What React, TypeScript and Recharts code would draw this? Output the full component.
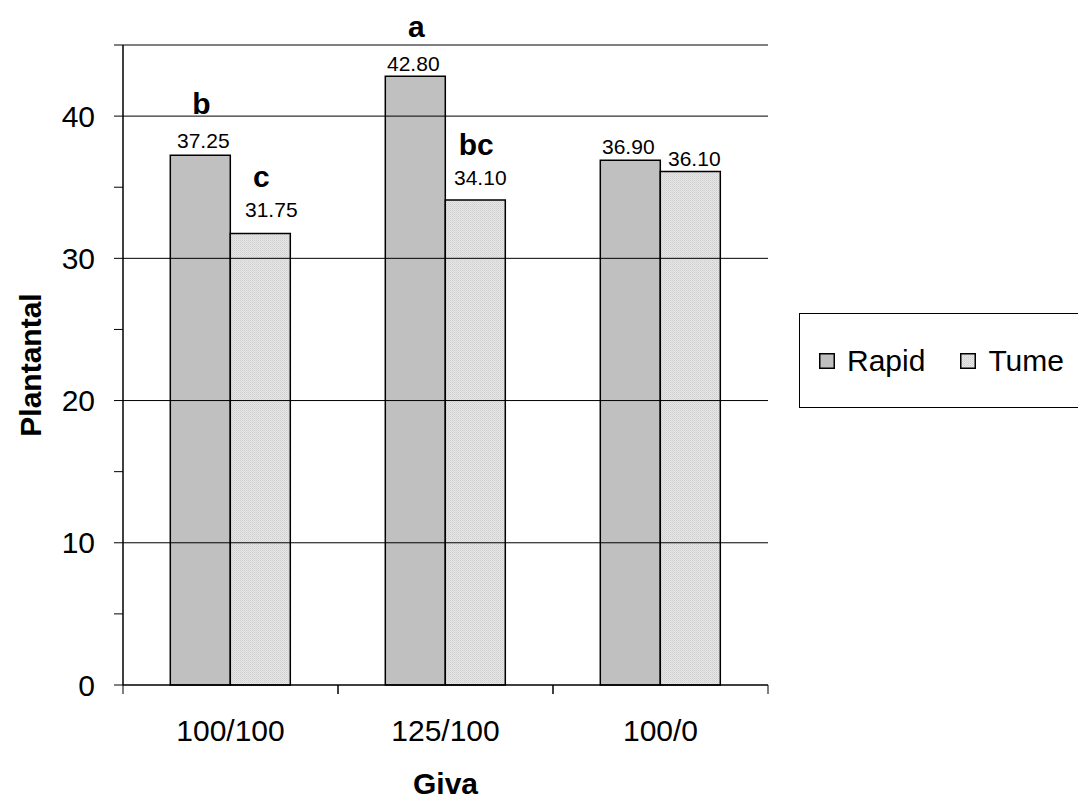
import React from "react";
import {
  BarChart,
  Bar,
  XAxis,
  YAxis,
  ReferenceLine,
  LabelList,
  Label,
} from "recharts";

const categories = ["100/100", "125/100", "100/0"];
const rapidValues = [37.25, 42.8, 36.9];
const tumeValues = [31.75, 34.1, 36.1];
const rapidLetters = ["b", "a", ""];
const tumeLetters = ["c", "bc", ""];
const yTicks = [0, 5, 10, 15, 20, 25, 30, 35, 40, 45];
const gridValues = [10, 20, 30, 40];
const seriesNames = ["Rapid", "Tume"];

const data = categories.map((giva, i) => ({
  giva,
  rapid: rapidValues[i],
  tume: tumeValues[i],
}));

const FONT = "'Liberation Sans', Arial, sans-serif";
const W = 1078;
const H = 798;
const PLOT = { left: 123, right: 768, top: 45, bottom: 685 };
const BAND = (PLOT.right - PLOT.left) / categories.length;

// hand-placed label lifts, like the original sheet
const rapidLift = [15, 13, 14];
const rapidShift = [3, -2, -2];
const tumeLift = [24, 23, 13];
const tumeShift = [11, 5, 4];

const makeLabel =
  (letters: string[], lift: number[], shift: number[], letterGap: number) =>
  (props: any) => {
    const vb = props.viewBox ?? props;
    const x = Number(vb.x ?? props.x);
    const y = Number(vb.y ?? props.y);
    const w = Number(vb.width ?? props.width);
    const i = props.index ?? 0;
    const numY = y - lift[i];
    return (
      <g>
        <text
          x={x + w / 2 + shift[i]}
          y={numY}
          textAnchor="middle"
          dominantBaseline="central"
          fontSize={21}
          fontFamily={FONT}
          fill="#000"
        >
          {Number(props.value).toFixed(2)}
        </text>
        {letters[i] ? (
          <text
            x={x + w / 2 + 1}
            y={numY - letterGap}
            textAnchor="middle"
            dominantBaseline="central"
            fontSize={30}
            fontWeight="bold"
            fontFamily={FONT}
            fill="#000"
          >
            {letters[i]}
          </text>
        ) : null}
      </g>
    );
  };

const GivaTick = (props: any) => {
  const { x, y, payload } = props;
  const half = BAND / 2;
  return (
    <g>
      <line x1={x - half} x2={x - half} y1={y} y2={y + 9} stroke="#000" />
      <line x1={x + half} x2={x + half} y1={y} y2={y + 9} stroke="#000" />
      <text
        x={x}
        y={y + 45}
        textAnchor="middle"
        dominantBaseline="central"
        fontSize={30}
        fontFamily={FONT}
        fill="#000"
      >
        {payload.value}
      </text>
    </g>
  );
};

const Swatch = ({ fill }: { fill: string }) => (
  <svg width={16} height={16} style={{ marginRight: 12 }}>
    <rect x={0.75} y={0.75} width={14.5} height={14.5} fill={fill} stroke="#000" strokeWidth={1.5} />
  </svg>
);

const LegendBox = () => (
  <div
    style={{
      position: "absolute",
      left: 799,
      top: 313,
      width: 300,
      height: 95,
      border: "1.5px solid #000",
      boxSizing: "border-box",
      display: "flex",
      alignItems: "center",
      paddingLeft: 19,
      fontFamily: FONT,
      fontSize: 30,
      color: "#000",
      background: "#fff",
    }}
  >
    <Swatch fill="#C0C0C0" />
    <span style={{ marginRight: 35 }}>{seriesNames[0]}</span>
    <Swatch fill="url(#tumeDots)" />
    <span>{seriesNames[1]}</span>
  </div>
);

export default function App() {
  return (
    <div style={{ position: "absolute", left: 0, top: 0, width: W, height: H, background: "#fff", overflow: "hidden" }}>
      <BarChart
        width={W}
        height={H}
        data={data}
        margin={{ top: PLOT.top, right: W - PLOT.right, bottom: 0, left: 0 }}
        barCategoryGap="22%"
        barGap={0}
      >
        <defs>
          <pattern id="tumeDots" width={2} height={2} patternUnits="userSpaceOnUse">
            <rect width={2} height={2} fill="#E6E6E6" />
            <rect x={0} y={0} width={1} height={1} fill="#CFCFCF" />
            <rect x={1} y={1} width={1} height={1} fill="#D9D9D9" />
          </pattern>
        </defs>
        <XAxis
          dataKey="giva"
          height={H - PLOT.bottom}
          axisLine={{ stroke: "#000", strokeWidth: 1.5 }}
          tickLine={false}
          tickSize={0}
          tickMargin={0}
          tick={<GivaTick />}
          interval={0}
        >
          <Label
            content={(p: any) => {
              const vb = p.viewBox;
              return (
                <text
                  x={vb.x + vb.width / 2}
                  y={vb.y + 98}
                  textAnchor="middle"
                  dominantBaseline="central"
                  fontSize={30}
                  fontWeight="bold"
                  fontFamily={FONT}
                  fill="#000"
                >
                  Giva
                </text>
              );
            }}
          />
        </XAxis>
        <YAxis
          width={PLOT.left}
          domain={[0, 45]}
          ticks={yTicks}
          interval={0}
          tickSize={9}
          tickMargin={19}
          tickFormatter={(v: number) => (v % 10 === 0 ? String(v) : "")}
          axisLine={{ stroke: "#000", strokeWidth: 1.5 }}
          tickLine={{ stroke: "#000" }}
          tick={{ fill: "#000", fontSize: 30, fontFamily: FONT }}
        >
          <Label
            content={(p: any) => {
              const vb = p.viewBox;
              const cx = 30;
              const cy = vb.y + vb.height / 2;
              return (
                <text
                  x={cx}
                  y={cy}
                  transform={`rotate(-90, ${cx}, ${cy})`}
                  textAnchor="middle"
                  dominantBaseline="central"
                  fontSize={30}
                  fontWeight="bold"
                  fontFamily={FONT}
                  fill="#000"
                >
                  Plantantal
                </text>
              );
            }}
          />
        </YAxis>
        <YAxis
          yAxisId="border"
          orientation="right"
          width={0}
          domain={[0, 45]}
          tick={false}
          tickLine={false}
          axisLine={{ stroke: "#808080", strokeWidth: 2 }}
        />
        {gridValues.map((v) => (
          <ReferenceLine key={v} y={v} stroke="#000" strokeWidth={1} />
        ))}
        <ReferenceLine y={45} stroke="#808080" strokeWidth={2} />
        <Bar dataKey="rapid" name={seriesNames[0]} fill="#C0C0C0" stroke="#000" strokeWidth={1.5} isAnimationActive={false}>
          <LabelList dataKey="rapid" content={makeLabel(rapidLetters, rapidLift, rapidShift, 37)} />
        </Bar>
        <Bar dataKey="tume" name={seriesNames[1]} fill="url(#tumeDots)" stroke="#000" strokeWidth={1.5} isAnimationActive={false}>
          <LabelList dataKey="tume" content={makeLabel(tumeLetters, tumeLift, tumeShift, 33)} />
        </Bar>
      </BarChart>
      <LegendBox />
    </div>
  );
}
